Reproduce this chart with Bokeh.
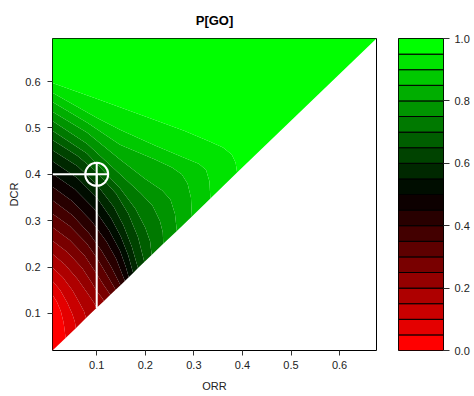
from bokeh.plotting import figure
from bokeh.layouts import row
from bokeh.models import FixedTicker, PrintfTickFormatter, Range1d
from bokeh.embed import file_html
from bokeh.resources import INLINE

# ---- data ----
levels = [0.0, 0.05, 0.10, 0.15, 0.20, 0.25, 0.30, 0.35, 0.40, 0.45, 0.50,
          0.55, 0.60, 0.65, 0.70, 0.75, 0.80, 0.85, 0.90, 0.95, 1.0]
band_colors = ["#ff0000", "#e40000", "#c90000", "#ae0000", "#940000",
               "#790000", "#5e0000", "#430000", "#280000", "#0d0000",
               "#000d00", "#002800", "#004300", "#005e00", "#007900",
               "#009400", "#00ae00", "#00c900", "#00e400", "#00ff00"]

orr_lim = [0.009, 0.676]
dcr_lim = [0.020, 0.693]

# contour lines P[GO] = 0.05 ... 0.95 (ORR, DCR), from the left edge to the ORR = DCR boundary
contour_orr = [
    [0.009, 0.018, 0.026, 0.032, 0.036],
    [0.009, 0.025, 0.040, 0.050, 0.055, 0.057],
    [0.009, 0.030, 0.050, 0.065, 0.074, 0.078],
    [0.009, 0.035, 0.060, 0.080, 0.093, 0.100],
    [0.009, 0.040, 0.070, 0.090, 0.100, 0.110, 0.115],
    [0.009, 0.045, 0.075, 0.100, 0.115, 0.128],
    [0.009, 0.045, 0.080, 0.100, 0.120, 0.139],
    [0.009, 0.050, 0.085, 0.110, 0.130, 0.149],
    [0.009, 0.050, 0.090, 0.120, 0.140, 0.158],
    [0.009, 0.055, 0.095, 0.125, 0.148, 0.160, 0.166],
    [0.009, 0.060, 0.100, 0.130, 0.150, 0.165, 0.175],
    [0.009, 0.060, 0.100, 0.135, 0.155, 0.172, 0.185],
    [0.009, 0.060, 0.100, 0.140, 0.165, 0.185, 0.198],
    [0.009, 0.080, 0.148, 0.180, 0.200, 0.210, 0.213],
    [0.009, 0.080, 0.148, 0.190, 0.215, 0.230, 0.236, 0.237],
    [0.009, 0.080, 0.148, 0.200, 0.235, 0.252, 0.261, 0.265],
    [0.009, 0.080, 0.148, 0.220, 0.255, 0.275, 0.287, 0.294, 0.296],
    [0.009, 0.100, 0.148, 0.220, 0.280, 0.310, 0.325, 0.332, 0.334],
    [0.009, 0.100, 0.200, 0.280, 0.330, 0.360, 0.378, 0.386, 0.389],
]
contour_dcr = [
    [0.140, 0.125, 0.105, 0.080, 0.047],
    [0.170, 0.150, 0.122, 0.098, 0.082, 0.068],
    [0.199, 0.178, 0.150, 0.122, 0.104, 0.090],
    [0.228, 0.205, 0.175, 0.145, 0.125, 0.112],
    [0.257, 0.232, 0.198, 0.166, 0.148, 0.135, 0.127],
    [0.286, 0.258, 0.225, 0.185, 0.160, 0.140],
    [0.315, 0.288, 0.250, 0.220, 0.185, 0.151],
    [0.344, 0.312, 0.272, 0.235, 0.200, 0.161],
    [0.373, 0.342, 0.298, 0.255, 0.218, 0.170],
    [0.401, 0.368, 0.325, 0.280, 0.235, 0.200, 0.178],
    [0.428, 0.392, 0.350, 0.305, 0.265, 0.225, 0.187],
    [0.452, 0.418, 0.378, 0.330, 0.290, 0.245, 0.198],
    [0.474, 0.440, 0.405, 0.358, 0.315, 0.265, 0.211],
    [0.494, 0.445, 0.370, 0.325, 0.285, 0.255, 0.226],
    [0.515, 0.466, 0.400, 0.360, 0.332, 0.300, 0.275, 0.250],
    [0.535, 0.490, 0.432, 0.390, 0.365, 0.345, 0.315, 0.278],
    [0.556, 0.512, 0.464, 0.432, 0.415, 0.400, 0.380, 0.350, 0.309],
    [0.576, 0.522, 0.496, 0.462, 0.436, 0.423, 0.410, 0.385, 0.348],
    [0.597, 0.563, 0.525, 0.494, 0.472, 0.458, 0.443, 0.425, 0.404],
]

marker_orr = 0.10
marker_dcr = 0.40

x_ticks = [0.1, 0.2, 0.3, 0.4, 0.5, 0.6]
y_ticks = [0.1, 0.2, 0.3, 0.4, 0.5, 0.6]
key_ticks = [0.0, 0.2, 0.4, 0.6, 0.8, 1.0]

FONT = "Liberation Sans"
TXT = "#222222"

# ---- bands between consecutive contour lines ----
band_xs, band_ys = [], []
nb = len(band_colors)
for k in range(nb):
    if k == 0:
        lo_x, lo_y = [orr_lim[0]], [dcr_lim[0]]
    else:
        lo_x, lo_y = contour_orr[k - 1], contour_dcr[k - 1]
    if k == nb - 1:
        hi_x, hi_y = [orr_lim[0], orr_lim[1]], [dcr_lim[1], dcr_lim[1]]
    else:
        hi_x, hi_y = contour_orr[k], contour_dcr[k]
    band_xs.append(list(lo_x) + list(reversed(hi_x)))
    band_ys.append(list(lo_y) + list(reversed(hi_y)))

H = 394
p = figure(width=398, height=H, x_range=Range1d(*orr_lim), y_range=Range1d(*dcr_lim),
           toolbar_location=None, output_backend="svg",
           min_border_left=52, min_border_right=22, min_border_top=35, min_border_bottom=41,
           title="P[GO]")
p.patches(band_xs, band_ys, fill_color=band_colors, line_color=None)

# marker with guide lines
slope = (dcr_lim[1] - dcr_lim[0]) / (orr_lim[1] - orr_lim[0])
diag_at_marker = dcr_lim[0] + (marker_orr - orr_lim[0]) * slope
p.line([orr_lim[0], marker_orr], [marker_dcr, marker_dcr], line_color="white", line_width=2)
p.line([marker_orr, marker_orr], [marker_dcr, diag_at_marker], line_color="white", line_width=2)
p.scatter([marker_orr], [marker_dcr], marker="circle_cross", size=23, fill_color=None,
          line_color="white", line_width=2)

p.grid.visible = False
p.outline_line_color = "black"
p.outline_line_width = 1
p.background_fill_color = "white"
p.border_fill_color = "white"

p.title.align = "center"
p.title.text_font = FONT
p.title.text_font_size = "13px"
p.title.text_font_style = "bold"
p.title.text_color = "black"
p.title.text_line_height = 1.0
p.title.standoff = 21

for ax, ticks, lab in ((p.xaxis, x_ticks, "ORR"), (p.yaxis, y_ticks, "DCR")):
    ax.ticker = FixedTicker(ticks=ticks)
    ax.formatter = PrintfTickFormatter(format="%.1f")
    ax.axis_label = lab
    ax.axis_label_text_font = FONT
    ax.axis_label_text_font_size = "11px"
    ax.axis_label_text_font_style = "normal"
    ax.axis_label_text_color = TXT
    ax.major_label_text_font = FONT
    ax.major_label_text_font_size = "11px"
    ax.major_label_text_color = TXT
    ax.major_tick_in = 0
    ax.major_tick_out = 5
    ax.minor_tick_line_color = None
    ax.axis_line_color = None
    ax.major_tick_line_color = "#333333"
p.xaxis.major_label_standoff = 5
p.xaxis.axis_label_standoff = 8
p.yaxis.major_label_standoff = 7
p.yaxis.axis_label_standoff = 2

# ---- colour key ----
k = figure(width=74, height=H, x_range=Range1d(0, 1), y_range=Range1d(levels[0], levels[-1]),
           toolbar_location=None, output_backend="svg", y_axis_location="right",
           min_border_left=0, min_border_right=28, min_border_top=35, min_border_bottom=41)
k.quad(left=0, right=1, bottom=levels[:-1], top=levels[1:], fill_color=band_colors,
       line_color="black", line_width=1)
k.xaxis.visible = False
k.grid.visible = False
k.outline_line_color = "black"
k.yaxis.ticker = FixedTicker(ticks=key_ticks)
k.yaxis.formatter = PrintfTickFormatter(format="%.1f")
k.yaxis.major_label_text_font = FONT
k.yaxis.major_label_text_font_size = "11px"
k.yaxis.major_label_text_color = TXT
k.yaxis.major_tick_in = 0
k.yaxis.major_tick_out = 6
k.yaxis.minor_tick_line_color = None
k.yaxis.axis_line_color = None
k.yaxis.major_tick_line_color = "#333333"
k.yaxis.major_label_standoff = 5

layout = row(p, k)
open("out.html", "w").write(file_html(layout, INLINE))
